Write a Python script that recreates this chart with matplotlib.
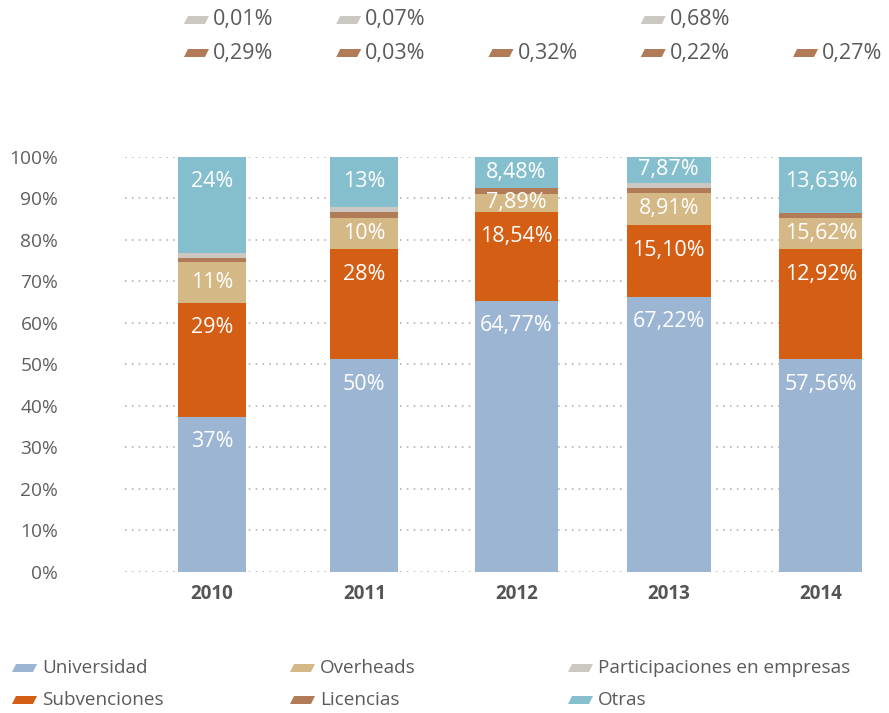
import matplotlib
matplotlib.use('Agg')
import matplotlib.pyplot as plt
from matplotlib.patches import Polygon

plt.rcParams['font.family'] = ['Open Sans', 'DejaVu Sans']

# data (segment heights in %, bottom to top)
years = ['2010', '2011', '2012', '2013', '2014']
universidad = [37.3, 51.2, 65.3, 66.3, 51.2]
subvenciones = [27.5, 26.5, 21.4, 17.2, 26.5]
overheads = [9.9, 7.6, 4.3, 7.8, 7.5]
licencias = [1.0, 1.3, 1.4, 1.2, 1.3]
participaciones = [1.2, 1.2, 0.0, 1.2, 0.0]
otras = [23.1, 12.2, 7.6, 6.3, 13.5]

# printed labels
univ_lbl = ['37%', '50%', '64,77%', '67,22%', '57,56%']
subv_lbl = ['29%', '28%', '18,54%', '15,10%', '12,92%']
over_lbl = ['11%', '10%', '7,89%', '8,91%', '15,62%']
otras_lbl = ['24%', '13%', '8,48%', '7,87%', '13,63%']
part_lbl = ['0,01%', '0,07%', '', '0,68%', '']
lic_lbl = ['0,29%', '0,03%', '0,32%', '0,22%', '0,27%']

series = ['Universidad', 'Subvenciones', 'Overheads', 'Licencias', 'Participaciones en empresas', 'Otras']
colors = {'Universidad': '#9bb5d3', 'Subvenciones': '#d45e13', 'Overheads': '#d4b885',
          'Licencias': '#b07b56', 'Participaciones en empresas': '#cbc7c1', 'Otras': '#85bfcd'}
widths = [0.45, 0.45, 0.55, 0.55, 0.55]

W, H = 889, 713
fig = plt.figure(figsize=(W / 100, H / 100), dpi=100)
# axes box in pixels: x 125..862, y 156.7..571.7
ax = fig.add_axes([125 / W, (H - 571.7) / H, (862 - 125) / W, 415 / H])

x = list(range(len(years)))
values = [universidad, subvenciones, overheads, licencias, participaciones, otras]
labels = [univ_lbl, subv_lbl, over_lbl, None, None, otras_lbl]
bottom = [0.0] * len(years)
for name, vals, lbls in zip(series, values, labels):
    ax.bar(x, vals, width=widths, bottom=bottom, color=colors[name], zorder=2, linewidth=0)
    if lbls is not None:
        for i, v in enumerate(vals):
            top = bottom[i] + v
            y = top - 6 if v >= 12 else bottom[i] + v / 2
            ax.text(i, y, lbls[i], ha='center', va='center', color='white', fontsize=15.5, zorder=3)
    bottom = [b + v for b, v in zip(bottom, vals)]

ax.set_xlim(-0.571, 4.269)
ax.set_ylim(0, 100)
ax.set_yticks(range(0, 101, 10))
ax.set_yticklabels([f'{t}%' for t in range(0, 101, 10)])
ax.set_xticks(x)
ax.set_xticklabels(years, fontweight='bold')
ax.tick_params(axis='y', length=0, pad=48, labelsize=13.8, labelcolor='#5f5f5f')
ax.tick_params(axis='x', length=0, pad=9, labelsize=13.5, labelcolor='#555555')
for lbl in ax.get_yticklabels():
    lbl.set_horizontalalignment('right')
ax.yaxis.grid(True, color='#aaaaaa', linestyle=(0, (1, 3.5)), linewidth=1.1, zorder=0)
ax.set_axisbelow(True)
for s in ax.spines.values():
    s.set_visible(False)


def para(x0, yc, color, w=21, h=8, s=4):
    # slanted legend swatch, pixel coords (y from top)
    pts = [(x0, yc + h / 2), (x0 + w, yc + h / 2), (x0 + w + s, yc - h / 2), (x0 + s, yc - h / 2)]
    pts = [(px / W, (H - py) / H) for px, py in pts]
    fig.add_artist(Polygon(pts, closed=True, facecolor=color, edgecolor='none', transform=fig.transFigure))


# small shares printed above the bars
to_px = ax.transData
for i in x:
    cx = to_px.transform((i, 0))[0]
    for lbl, name, yc in [(part_lbl[i], 'Participaciones en empresas', 20), (lic_lbl[i], 'Licencias', 53)]:
        if lbl:
            para(cx - 28, yc, colors[name])
            fig.text((cx + 1) / W, (H - yc) / H, lbl, ha='left', va='center',
                     fontsize=15.5, color='#5a5a5a')

# legend
legend_pos = [(12, 668), (12, 700), (290, 668), (290, 700), (568, 668), (568, 700)]
legend_order = ['Universidad', 'Subvenciones', 'Overheads', 'Licencias', 'Participaciones en empresas', 'Otras']
for name, (lx, ly) in zip(legend_order, legend_pos):
    para(lx, ly, colors[name])
    fig.text((lx + 30) / W, (H - ly) / H, name, ha='left', va='center', fontsize=13.6, color='#5a5a5a')

fig.savefig('out.png', dpi=100)
